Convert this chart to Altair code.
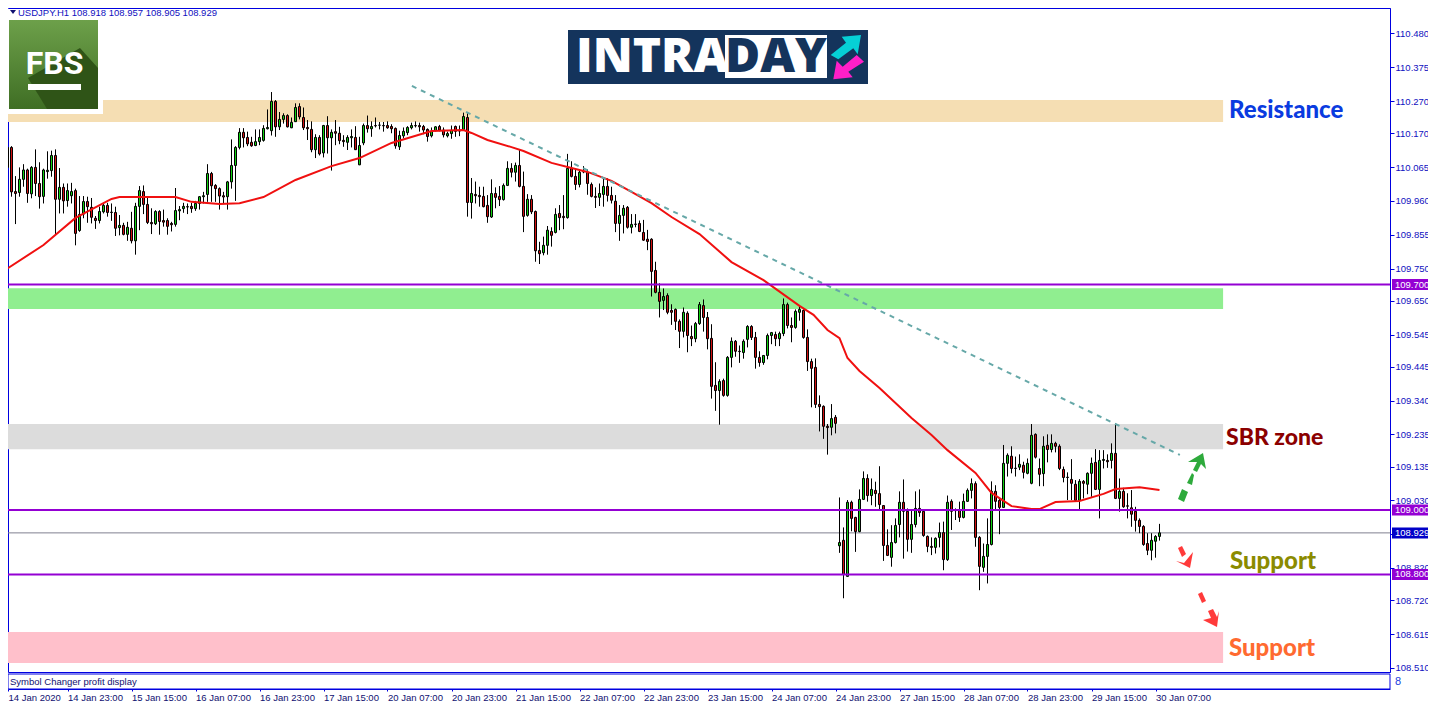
import altair as alt
import pandas as pd

opens = [110.074,110.064,110.126,109.989,109.986,110.027,110.056,109.982,110.064,110.014,
109.974,110.051,110.054,110.101,109.965,110.002,109.961,109.976,109.992,109.868,
109.919,109.958,109.940,109.906,109.899,109.926,109.946,109.925,109.924,109.877,
109.884,109.856,109.875,109.836,109.943,109.989,109.949,109.893,109.889,109.927,
109.899,109.899,109.890,109.887,109.929,109.936,109.942,109.943,109.936,109.952,
109.973,109.980,110.045,110.008,109.998,109.976,109.973,110.019,110.070,110.126,
110.173,110.157,110.142,110.132,110.144,110.148,110.184,110.178,110.269,110.190,
110.213,110.225,110.187,110.206,110.253,110.219,110.188,110.182,110.119,110.157,
110.109,110.194,110.156,110.175,110.170,110.148,110.142,110.156,110.157,110.072,
110.140,110.194,110.184,110.194,110.195,110.194,110.194,110.191,110.185,110.128,
110.162,110.172,110.187,110.194,110.194,110.191,110.182,110.162,110.178,110.191,
110.180,110.162,110.169,110.191,110.178,110.182,110.219,109.955,109.980,109.977,
109.974,109.946,109.910,109.983,109.974,109.964,110.008,110.061,110.049,110.070,
110.005,109.915,109.965,109.927,109.806,109.799,109.822,109.865,109.862,109.921,
109.912,109.908,110.061,110.036,110.011,110.051,110.049,110.011,109.974,109.971,
109.980,110.005,109.977,109.959,109.890,109.915,109.940,109.878,109.888,109.890,
109.862,109.841,109.841,109.744,109.676,109.651,109.666,109.620,109.623,109.586,
109.555,109.611,109.539,109.532,109.579,109.635,109.598,109.533,109.387,109.371,
109.402,109.356,109.474,109.524,109.493,109.489,109.530,109.570,109.536,109.474,
109.458,109.480,109.542,109.545,109.532,109.548,109.638,109.573,109.567,109.614,
109.620,109.536,109.461,109.443,109.328,109.322,109.260,109.257,109.288,108.889,
108.906,108.794,109.024,108.977,108.933,109.033,109.098,109.045,109.061,109.051,
109.014,108.890,108.853,108.899,108.955,109.024,108.996,108.909,108.955,109.005,
108.996,108.918,108.887,108.884,108.915,108.930,108.846,109.027,108.999,108.999,
108.977,109.027,109.061,109.082,108.915,108.822,108.856,108.893,109.058,109.030,
109.008,109.145,109.167,109.130,109.133,109.139,109.114,109.083,109.235,109.129,
109.113,109.201,109.188,109.207,109.198,109.126,109.102,109.095,109.080,109.030,
109.089,109.080,109.114,109.148,109.064,109.154,109.154,109.154,109.176,109.036,
109.058,109.013,109.007,108.996,108.968,108.949,108.896,108.875,108.903,108.918]

highs = [110.116,110.144,110.130,110.037,110.064,110.074,110.060,110.068,110.120,110.080,
110.060,110.114,110.116,110.120,110.062,110.014,110.014,110.016,109.998,109.975,
109.975,109.973,109.969,109.913,109.942,109.954,109.954,109.952,109.942,109.916,
109.892,109.895,109.926,109.954,110.006,110.008,109.973,109.937,109.931,109.931,
109.933,109.906,109.895,110.000,109.944,109.954,109.952,109.954,109.960,109.975,
109.988,110.074,110.050,110.012,110.002,109.988,110.022,110.151,110.130,110.186,
110.186,110.175,110.159,110.182,110.182,110.195,110.244,110.298,110.273,110.236,
110.232,110.229,110.219,110.263,110.263,110.250,110.211,110.207,110.167,110.164,
110.196,110.223,110.182,110.211,110.190,110.164,110.164,110.182,110.192,110.159,
110.200,110.225,110.207,110.219,110.205,110.205,110.207,110.198,110.188,110.178,
110.188,110.192,110.203,110.207,110.203,110.196,110.185,110.188,110.192,110.196,
110.188,110.175,110.194,110.194,110.194,110.234,110.232,110.031,110.020,110.004,
110.004,109.978,110.027,110.002,110.006,110.014,110.083,110.077,110.079,110.120,
110.051,109.981,109.978,109.930,109.833,109.849,109.882,109.878,109.937,109.947,
109.978,110.106,110.083,110.061,110.058,110.068,110.058,110.017,110.002,110.014,
110.030,110.030,110.004,109.978,109.947,109.947,109.944,109.919,109.919,109.899,
109.901,109.870,109.844,109.771,109.704,109.688,109.673,109.639,109.626,109.592,
109.629,109.617,109.573,109.584,109.646,109.654,109.615,109.577,109.459,109.406,
109.408,109.478,109.536,109.528,109.511,109.530,109.574,109.574,109.553,109.493,
109.481,109.548,109.553,109.554,109.554,109.657,109.644,109.598,109.623,109.635,
109.623,109.561,109.470,109.471,109.356,109.325,109.267,109.329,109.295,109.039,
108.946,109.031,109.029,108.979,109.064,109.120,109.111,109.098,109.088,109.136,
109.015,108.940,108.953,108.974,109.058,109.095,109.005,109.002,109.058,109.064,
109.000,108.921,108.915,108.915,108.961,108.964,109.045,109.033,109.005,109.026,
109.051,109.067,109.098,109.089,108.919,108.896,108.974,109.089,109.077,109.036,
109.202,109.176,109.198,109.166,109.173,109.150,109.160,109.267,109.238,109.160,
109.229,109.235,109.235,109.212,109.204,109.135,109.117,109.158,109.093,109.096,
109.093,109.117,109.163,109.189,109.186,109.186,109.173,109.207,109.269,109.098,
109.069,109.052,109.062,109.010,108.974,108.953,108.928,108.928,108.922,108.957]

lows = [110.056,110.060,109.973,109.888,109.973,110.004,109.954,109.968,109.975,109.936,
109.952,110.029,110.035,109.857,109.921,109.921,109.942,109.952,109.822,109.864,
109.906,109.892,109.890,109.873,109.890,109.921,109.911,109.898,109.851,109.853,
109.853,109.836,109.828,109.793,109.869,109.919,109.888,109.857,109.885,109.855,
109.880,109.855,109.865,109.880,109.900,109.923,109.919,109.923,109.929,109.933,
109.952,109.957,109.957,109.957,109.933,109.952,109.933,109.998,109.960,110.120,
110.126,110.130,110.128,110.130,110.133,110.144,110.182,110.163,110.159,110.180,
110.200,110.188,110.186,110.205,110.213,110.180,110.149,110.111,110.093,110.101,
110.095,110.107,110.054,110.133,110.136,110.128,110.118,110.126,110.118,110.071,
110.133,110.172,110.159,110.188,110.182,110.175,110.184,110.170,110.122,110.118,
110.154,110.164,110.182,110.188,110.175,110.167,110.144,110.157,110.176,110.176,
110.157,110.157,110.153,110.159,110.161,110.178,109.911,109.905,109.952,109.942,
109.940,109.892,109.907,109.937,109.944,109.961,110.006,110.033,110.020,110.002,
109.863,109.911,109.919,109.771,109.764,109.791,109.793,109.818,109.859,109.869,
109.872,109.905,110.033,109.994,110.002,110.046,109.979,109.971,109.938,109.944,
109.942,109.958,109.952,109.863,109.836,109.859,109.874,109.859,109.878,109.863,
109.836,109.807,109.663,109.673,109.598,109.621,109.608,109.575,109.559,109.503,
109.536,109.490,109.509,109.521,109.575,109.554,109.499,109.346,109.308,109.265,
109.352,109.352,109.443,109.476,109.457,109.470,109.505,109.528,109.439,109.445,
109.451,109.468,109.515,109.509,109.509,109.540,109.564,109.521,109.563,109.588,
109.532,109.432,109.319,109.317,109.244,109.221,109.172,109.232,109.238,108.867,
108.726,108.793,108.934,108.870,108.931,109.031,109.026,109.015,109.010,109.002,
108.842,108.857,108.824,108.896,108.915,108.849,108.871,108.867,108.946,108.979,
108.917,108.869,108.860,108.865,108.884,108.813,108.842,108.938,108.969,108.963,
108.974,109.025,109.036,108.886,108.751,108.808,108.772,108.890,108.999,108.925,
109.007,109.104,109.114,109.104,109.124,109.098,109.111,109.080,109.160,109.074,
109.074,109.148,109.179,109.179,109.124,109.086,109.031,109.031,109.026,109.003,
109.036,109.049,109.041,109.062,108.974,109.129,109.131,109.129,109.034,108.995,
109.007,108.974,108.948,108.933,108.928,108.889,108.860,108.844,108.852,108.905]

closes = [110.062,110.126,109.988,109.983,110.027,110.056,109.983,110.064,110.014,109.973,
110.056,110.055,110.101,109.965,110.002,109.960,109.992,109.989,109.859,109.918,
109.958,109.942,109.909,109.899,109.927,109.946,109.924,109.924,109.875,109.884,
109.856,109.878,109.836,109.943,109.992,109.949,109.893,109.889,109.927,109.896,
109.894,109.881,109.886,109.930,109.933,109.943,109.941,109.936,109.952,109.973,
109.976,110.045,110.007,109.998,109.975,109.972,110.019,110.070,110.126,110.173,
110.156,110.137,110.131,110.144,110.157,110.185,110.188,110.269,110.190,110.213,
110.225,110.190,110.204,110.250,110.221,110.187,110.184,110.119,110.157,110.106,
110.194,110.156,110.173,110.170,110.147,110.144,110.157,110.160,110.119,110.132,
110.194,110.184,110.191,110.193,110.195,110.193,110.187,110.184,110.131,110.163,
110.176,110.188,110.194,110.193,110.190,110.180,110.160,110.176,110.190,110.180,
110.165,110.169,110.179,110.176,110.177,110.222,109.955,109.983,109.976,109.973,
109.942,109.911,109.983,109.971,109.964,110.008,110.061,110.049,110.070,110.005,
109.912,109.965,109.926,109.805,109.796,109.822,109.869,109.853,109.918,109.908,
109.908,110.061,110.036,110.011,110.049,110.050,110.014,109.974,109.971,109.983,
110.005,109.977,109.962,109.890,109.915,109.937,109.878,109.887,109.887,109.865,
109.838,109.834,109.741,109.676,109.648,109.663,109.614,109.614,109.586,109.555,
109.614,109.542,109.532,109.579,109.638,109.598,109.532,109.384,109.371,109.399,
109.356,109.474,109.524,109.493,109.492,109.524,109.570,109.536,109.474,109.458,
109.480,109.542,109.551,109.532,109.548,109.638,109.573,109.567,109.617,109.623,
109.536,109.461,109.440,109.328,109.321,109.260,109.256,109.284,109.269,108.899,
108.800,109.024,108.974,108.933,109.033,109.098,109.045,109.064,109.051,109.017,
108.890,108.859,108.899,108.952,109.024,108.996,108.909,108.955,109.005,108.992,
108.921,108.887,108.884,108.912,108.930,108.846,109.024,108.996,108.998,108.977,
109.027,109.061,109.082,108.915,108.825,108.856,108.893,109.058,109.027,109.008,
109.145,109.170,109.129,109.129,109.142,109.117,109.145,109.232,109.164,109.111,
109.198,109.188,109.207,109.198,109.129,109.101,109.101,109.083,109.030,109.089,
109.083,109.114,109.145,109.064,109.154,109.157,109.150,109.176,109.036,109.058,
109.010,109.012,108.987,108.968,108.949,108.893,108.875,108.906,108.918,108.929]

ma_bar = [0,10,18,27,29,39,43,47,54,59,65,73,82,89,97,107,115,117,121,127,130,137,142,146,152,157,
          162,167,174,182,190,199,202.5,206,209,211,214,219,227,232,236,243,247,252,257,259,263,269,275,278,284,289]
ma_price = [109.742,109.823,109.907,109.966,109.972,109.972,109.972,109.957,109.950,109.953,109.972,
            110.025,110.068,110.093,110.140,110.177,110.180,110.171,110.149,110.127,110.115,110.078,
            110.062,110.050,110.022,109.988,109.953,109.910,109.857,109.770,109.714,109.634,109.606,
            109.559,109.534,109.472,109.432,109.379,109.286,109.233,109.186,109.115,109.053,109.012,
            109.003,109.003,109.025,109.028,109.050,109.065,109.071,109.062]

trend_bar = [102.1, 294.1]
trend_price = [110.317, 109.171]

zone_low = [110.205, 109.624, 109.189, 108.525]
zone_high = [110.273, 109.689, 109.267, 108.621]
zone_colors = ["#f5deb3", "#90ee90", "#dcdcdc", "#ffc0cb"]
zone_end_bar = 304.9

level_prices = [109.700, 109.000, 108.800]
bid_price = 108.929

price_ticks = [110.480,110.375,110.270,110.170,110.065,109.960,109.855,109.750,109.650,109.545,
               109.445,109.340,109.235,109.135,109.030,108.925,108.820,108.720,108.615,108.510]
time_tick_bars = [1.125,16,32,48,64,80,96,112,128,144,160,176,192,208,224,240,256,272,288]
time_labels = ["14 Jan 2020","14 Jan 23:00","15 Jan 15:00","16 Jan 07:00","16 Jan 23:00","17 Jan 15:00",
               "20 Jan 07:00","20 Jan 23:00","21 Jan 15:00","22 Jan 07:00","22 Jan 23:00","23 Jan 15:00",
               "24 Jan 07:00","24 Jan 23:00","27 Jan 15:00","28 Jan 07:00","28 Jan 23:00","29 Jan 15:00","30 Jan 07:00"]

UI_FONT = "Liberation Sans"
BIG_FONT = "Lato"
BLUE = "#0000e0"
PW, PH = 1382, 664

xs = alt.Scale(domain=[1.125, 346.625], nice=False, zero=False, padding=0)
ys = alt.Scale(domain=[108.497, 110.559], nice=False, zero=False, padding=0)
x_axis = alt.Axis(
    values=time_tick_bars, offset=17, tickSize=2, tickColor=BLUE, domainColor=BLUE, grid=False, title=None,
    labelAlign="left", labelFont=UI_FONT, labelFontSize=9.5, labelColor="#101070", labelPadding=1,
    labelOverlap=False, labelFlush=False,
    labelExpr="[" + ",".join(f"'{t}'" for t in time_labels) + "][round(datum.value/16)]")
y_axis = alt.Axis(
    orient="right", values=price_ticks, format=".3f", tickSize=4, tickColor=BLUE, domainColor=BLUE, grid=False,
    title=None, labelFont=UI_FONT, labelFontSize=9.5, labelColor="#1010c0", labelPadding=1, labelOverlap=False,
    labelFlush=False)
X = alt.X("k:Q", scale=xs, axis=x_axis)
Y = alt.Y("p:Q", scale=ys, axis=y_axis)

candles = pd.DataFrame({"k": range(len(opens)), "o": opens, "h": highs, "l": lows, "c": closes})
candles["top"] = candles[["o", "c"]].max(axis=1)
candles["bot"] = candles[["o", "c"]].min(axis=1)
candles["dir"] = ["up" if c >= o else "down" for o, c in zip(opens, closes)]

one = alt.Data(values=[{"a": 1}])


def label(text, x, y, size, color, font=UI_FONT, weight="normal", align="left"):
    return alt.Chart(one).mark_text(text=text, font=font, fontSize=size, fontWeight=weight, color=color,
                                    align=align, baseline="middle").encode(
        x=alt.value(x - 8), y=alt.value(y - 8))


def poly(points, color):
    path = "M" + " L".join(f"{px - 8} {py - 8}" for px, py in points) + " Z"
    return alt.Chart(one).mark_point(shape=path, size=4, filled=True, color=color, strokeWidth=0,
                                     opacity=1).encode(x=alt.value(0), y=alt.value(0))


def box(x0, y0, x1, y1, fill):
    return poly([(x0, y0), (x1, y0), (x1, y1), (x0, y1)], fill)


zones = alt.Chart(pd.DataFrame({"lo": zone_low, "hi": zone_high, "col": zone_colors,
                                "a": [1.125] * 4, "b": [zone_end_bar] * 4})).mark_rect().encode(
    x=alt.X("a:Q", scale=xs, axis=x_axis), x2="b:Q",
    y=alt.Y("lo:Q", scale=ys, axis=y_axis), y2="hi:Q",
    color=alt.Color("col:N", scale=None, legend=None))

wicks = alt.Chart(candles).mark_rule(color="black", strokeWidth=1, clip=True).encode(
    x=X, y=alt.Y("h:Q", scale=ys, axis=y_axis), y2="l:Q")

bodies = alt.Chart(candles).mark_bar(size=2, stroke="black", strokeWidth=1, clip=True).encode(
    x=X,
    y=alt.Y("top:Q", scale=ys, axis=y_axis), y2="bot:Q",
    color=alt.Color("dir:N", scale=alt.Scale(domain=["up", "down"], range=["#10d010", "#d01010"]), legend=None))

ma = alt.Chart(pd.DataFrame({"k": ma_bar, "p": ma_price})).mark_line(color="#f01010", strokeWidth=2, clip=True).encode(x=X, y=Y)
trend = alt.Chart(pd.DataFrame({"k": trend_bar, "p": trend_price})).mark_line(
    color="#66a8a8", strokeWidth=2, strokeDash=[5, 5]).encode(x=X, y=Y)

bid = alt.Chart(pd.DataFrame({"p": [bid_price]})).mark_rule(color="#808090", strokeWidth=1).encode(y=Y)
levels = alt.Chart(pd.DataFrame({"p": level_prices})).mark_rule(color="#9400d3", strokeWidth=2).encode(y=Y)

TAG = "M-1 -5.5 L40 -5.5 L40 5.5 L-1 5.5 Z"
tags = alt.Chart(pd.DataFrame({"p": level_prices})).mark_point(
    shape=TAG, size=4, filled=True, color="#9400d3", strokeWidth=0, opacity=1).encode(x=alt.value(PW + 3), y=Y)
tag_text = alt.Chart(pd.DataFrame({"p": level_prices, "t": [f"{v:.3f}" for v in level_prices]})).mark_text(
    font=UI_FONT, fontSize=9.5, color="white", align="left", baseline="middle").encode(
    x=alt.value(PW + 5), y=Y, text="t:N")
bid_tag = alt.Chart(pd.DataFrame({"p": [bid_price]})).mark_point(
    shape=TAG, size=4, filled=True, color="#0000c8", strokeWidth=0, opacity=1).encode(x=alt.value(PW + 3), y=Y)
bid_text = alt.Chart(pd.DataFrame({"p": [bid_price], "t": [f"{bid_price:.3f}"]})).mark_text(
    font=UI_FONT, fontSize=9.5, color="white", align="left", baseline="middle").encode(
    x=alt.value(PW + 5), y=Y, text="t:N")

panel = alt.Chart(one).mark_rect(fill="white", stroke=BLUE, strokeWidth=1).encode(
    x=alt.value(0), x2=alt.value(PW), y=alt.value(666), y2=alt.value(681))

fbs = [
    box(8, 9, 103, 114, "white"),
    alt.Chart(one).mark_rect(color=alt.Gradient(gradient="linear", x1=0, y1=0, x2=0, y2=1,
                                                stops=[alt.GradientStop(offset=0, color="#6da04a"),
                                                       alt.GradientStop(offset=1, color="#3f6e24")])).encode(
        x=alt.value(1), x2=alt.value(90), y=alt.value(12), y2=alt.value(101)),
    poly([(28, 78), (47, 109), (98, 109), (98, 68), (80, 48)], "#2f5417"),
    label("FBS", 54.5, 64, 32, "white", font="Roboto", weight="bold", align="center"),
    box(28, 84, 81, 90, "white"),
]

intraday = [
    box(568, 30, 868, 84, "#14345c"),
    label("INTRA", 576, 57.5, 48, "white", font="Open Sans", weight=800),
    box(725, 35, 827, 78, "white"),
    label("DAY", 776, 57.5, 48, "#14345c", font="Open Sans", weight=800, align="center"),
    poly([(861, 35), (841.7, 36.7), (846, 42.7), (830.7, 55), (838.3, 59.3), (853.3, 48.3), (857.7, 54.3)], "#06d0d6"),
    poly([(833.3, 79.3), (852.7, 77.3), (848.3, 71.7), (864, 61.7), (856.7, 55), (842.7, 66.7), (836.7, 60.7)], "#ff1fc8"),
]

arrows = [
    poly([(1178, 499), (1184, 502), (1188, 492), (1182, 489)], "#2eaa3c"),
    poly([(1187, 483), (1192, 485), (1194, 475), (1192, 473)], "#2eaa3c"),
    poly([(1188, 462), (1203, 453), (1206, 469), (1201, 464), (1197, 472), (1193, 470), (1197, 462)], "#2eaa3c"),
    poly([(1178, 548), (1182, 546), (1186, 554), (1182, 557)], "#ff3a3a"),
    poly([(1176, 561), (1184, 563), (1193, 552), (1190, 568)], "#ff3a3a"),
    poly([(1198, 594), (1202, 592), (1206, 601), (1202, 603)], "#ff3a3a"),
    poly([(1208, 611), (1213, 609), (1217, 617), (1219, 611), (1217, 627), (1203, 620), (1211, 618)], "#ff3a3a"),
]

header = [
    poly([(10, 10), (16, 10), (13, 14)], "#101070"),
    label("USDJPY.H1  108.918 108.957 108.905 108.929", 18, 12.5, 9.5, "#1010c0"),
    label("Symbol Changer profit display", 10, 682, 9.5, "#101070"),
    label("8", 1395, 682, 11, "#2040e0"),
]

texts = [
    label("Resistance", 1229, 111, 24, "#0a3be0", font=BIG_FONT, weight=900),
    label("SBR zone", 1226, 438, 23, "#8b0000", font=BIG_FONT, weight=900),
    label("Support", 1230, 562, 24, "#8b8b00", font=BIG_FONT, weight=900),
    label("Support", 1229, 649, 24, "#ff6a30", font=BIG_FONT, weight=900),
]

layers = [zones, bid, wicks, bodies, ma, trend, levels, panel] + fbs + intraday + arrows + texts + header + [
    tags, bid_tag, tag_text, bid_text]

chart = alt.layer(*layers).properties(
    width=PW, height=PH, background="white",
    padding={"left": 0, "top": 0, "right": 38, "bottom": 31},
    autosize=alt.AutoSizeParams(type="none")).resolve_scale(
    color="independent").configure_view(stroke=BLUE, strokeWidth=1)

chart.save("out.html", embed_options={"renderer": "svg", "actions": False})
